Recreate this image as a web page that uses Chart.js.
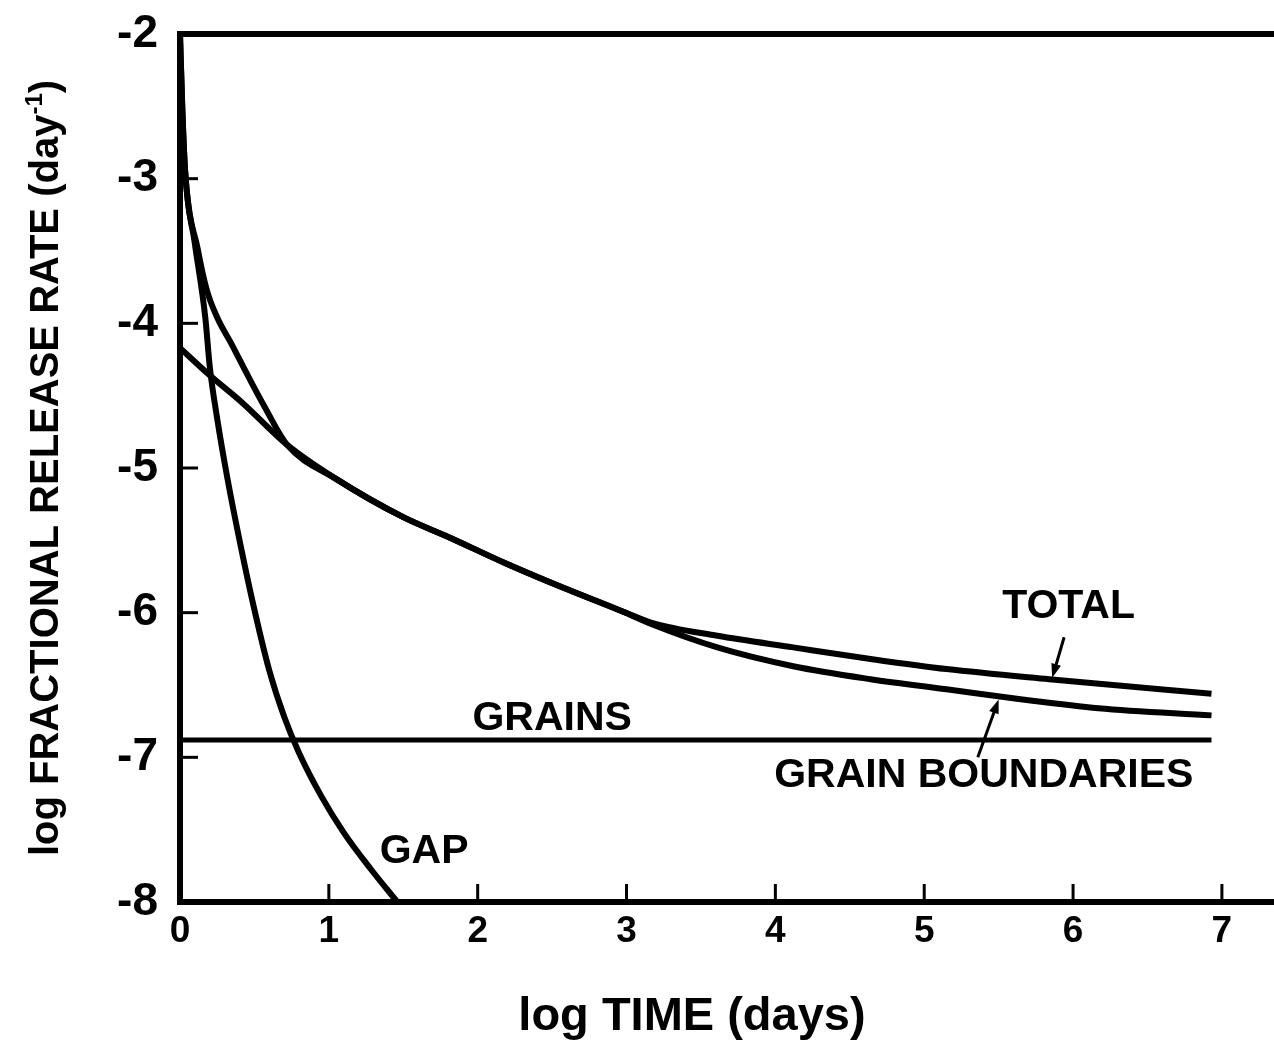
<!DOCTYPE html>
<html>
<head>
<meta charset="utf-8">
<title>Fractional release rate</title>
<script src="https://cdn.jsdelivr.net/npm/chart.js@4.4.0/dist/chart.umd.min.js"></script>
<style>
    html, body { margin: 0; padding: 0; background: #fff; }
    #wrap { position: relative; width: 1274px; height: 1045px; }
</style>
</head>
<body>
<div id="wrap"><canvas id="chart"></canvas></div>
<script>
// 1. Data (log10 values)
const xTicks = [0, 1, 2, 3, 4, 5, 6, 7];
const yTicks = [-8, -7, -6, -5, -4, -3, -2];

const gapX = [0, 0.015, 0.034, 0.10, 0.17, 0.20, 0.25, 0.32, 0.41, 0.50, 0.60, 0.70, 0.80, 0.95, 1.10, 1.28, 1.46];
const gapY = [-2.0, -2.5, -2.94, -3.45, -3.96, -4.30, -4.66, -5.08, -5.55, -5.98, -6.40, -6.72, -6.97, -7.27, -7.52, -7.77, -8.0];

const totalX = [0, 0.015, 0.034, 0.12, 0.18, 0.25, 0.35, 0.45, 0.57, 0.72, 1.04, 1.5, 1.81, 2.19, 2.58, 2.97, 3.17, 3.61, 4.12, 4.64, 5.15, 5.84, 6.93];
const totalY = [-2.0, -2.5, -2.94, -3.49, -3.77, -3.96, -4.15, -4.35, -4.58, -4.84, -5.07, -5.34, -5.48, -5.66, -5.83, -5.99, -6.07, -6.16, -6.24, -6.32, -6.39, -6.46, -6.56];

const boundX = [0, 0.19, 0.42, 0.72, 1.04, 1.5, 1.81, 2.19, 2.58, 2.97, 3.17, 3.61, 4.12, 4.64, 5.15, 5.66, 6.17, 6.93];
const boundY = [-4.17, -4.35, -4.55, -4.84, -5.07, -5.34, -5.48, -5.66, -5.83, -5.99, -6.08, -6.24, -6.37, -6.46, -6.53, -6.60, -6.66, -6.71];

const grainsX = [0, 6.93];
const grainsY = [-6.88, -6.88];

// 2. Style
const Theme = {
    ink: '#000',
    font: "'Liberation Sans', Arial, Helvetica, sans-serif"
};

const pts = (xs, ys) => xs.map((x, i) => ({ x: x, y: ys[i] }));

const curve = (data, width) => ({
    data: data,
    showLine: true,
    borderColor: Theme.ink,
    borderWidth: width,
    pointRadius: 0,
    cubicInterpolationMode: 'monotone',
    fill: false
});

// curve names placed in data units, arrows from -> to
const curveLabels = [
    { text: 'TOTAL', x: 5.97, y: -5.96 },
    { text: 'GRAINS', x: 2.50, y: -6.73 },
    { text: 'GRAIN BOUNDARIES', x: 5.40, y: -7.13 },
    { text: 'GAP', x: 1.64, y: -7.65 }
];
const arrows = [
    { from: [5.94, -6.17], to: [5.86, -6.45] },
    { from: [5.36, -7.00], to: [5.50, -6.60] }
];

// 3. Drawing extras: frame top, inward ticks, labels, titles
const extras = {
    id: 'extras',
    afterDatasetsDraw(chart) {
        const { ctx, chartArea: a, scales: { x, y } } = chart;
        ctx.save();
        ctx.strokeStyle = Theme.ink;
        ctx.fillStyle = Theme.ink;

        // top frame line
        ctx.lineWidth = 6;
        ctx.beginPath();
        ctx.moveTo(a.left - 3, y.getPixelForValue(-2));
        ctx.lineTo(a.right, y.getPixelForValue(-2));
        ctx.stroke();

        // inward ticks
        ctx.lineWidth = 3;
        xTicks.slice(1).forEach(v => {
            const px = x.getPixelForValue(v);
            ctx.beginPath();
            ctx.moveTo(px, a.bottom);
            ctx.lineTo(px, a.bottom - 18);
            ctx.stroke();
        });
        yTicks.slice(1, -1).forEach(v => {
            const py = y.getPixelForValue(v);
            ctx.beginPath();
            ctx.moveTo(a.left, py);
            ctx.lineTo(a.left + 18, py);
            ctx.stroke();
        });

        // curve names
        ctx.font = 'bold 41px ' + Theme.font;
        ctx.textAlign = 'center';
        ctx.textBaseline = 'middle';
        curveLabels.forEach(l => {
            ctx.fillText(l.text, x.getPixelForValue(l.x), y.getPixelForValue(l.y));
        });

        // pointer arrows
        ctx.lineWidth = 3;
        arrows.forEach(ar => {
            const x0 = x.getPixelForValue(ar.from[0]), y0 = y.getPixelForValue(ar.from[1]);
            const x1 = x.getPixelForValue(ar.to[0]), y1 = y.getPixelForValue(ar.to[1]);
            const ang = Math.atan2(y1 - y0, x1 - x0);
            ctx.beginPath();
            ctx.moveTo(x0, y0);
            ctx.lineTo(x1 - 8 * Math.cos(ang), y1 - 8 * Math.sin(ang));
            ctx.stroke();
            ctx.beginPath();
            ctx.moveTo(x1, y1);
            ctx.lineTo(x1 - 14 * Math.cos(ang) + 5 * Math.sin(ang), y1 - 14 * Math.sin(ang) - 5 * Math.cos(ang));
            ctx.lineTo(x1 - 14 * Math.cos(ang) - 5 * Math.sin(ang), y1 - 14 * Math.sin(ang) + 5 * Math.cos(ang));
            ctx.closePath();
            ctx.fill();
        });

        // x axis title
        ctx.font = 'bold 47px ' + Theme.font;
        ctx.textAlign = 'center';
        ctx.textBaseline = 'alphabetic';
        ctx.fillText('log TIME (days)', 692, 1030);

        // y axis title, with superscript
        ctx.translate(58, (a.top + a.bottom) / 2);
        ctx.rotate(-Math.PI / 2);
        const main = 'log FRACTIONAL RELEASE RATE (day';
        const sup = '-1';
        const close = ')';
        ctx.font = 'bold 40px ' + Theme.font;
        const wMain = ctx.measureText(main).width;
        const wClose = ctx.measureText(close).width;
        ctx.font = 'bold 24px ' + Theme.font;
        const wSup = ctx.measureText(sup).width;
        let cx = -(wMain + wSup + wClose) / 2;
        ctx.textAlign = 'left';
        ctx.font = 'bold 40px ' + Theme.font;
        ctx.fillText(main, cx, 0);
        cx += wMain;
        ctx.font = 'bold 24px ' + Theme.font;
        ctx.fillText(sup, cx, -16);
        cx += wSup;
        ctx.font = 'bold 40px ' + Theme.font;
        ctx.fillText(close, cx, 0);
        ctx.restore();
    }
};

// 4. Chart
new Chart(document.getElementById('chart'), {
    type: 'scatter',
    data: {
        datasets: [
            curve(pts(gapX, gapY), 6),
            curve(pts(totalX, totalY), 6),
            curve(pts(boundX, boundY), 6),
            curve(pts(grainsX, grainsY), 5)
        ]
    },
    options: {
        responsive: true,
        maintainAspectRatio: false,
        animation: false,
        layout: { padding: { top: 34, right: 0, bottom: 0, left: 0 } },
        plugins: { legend: { display: false }, tooltip: { enabled: false } },
        scales: {
            x: {
                type: 'linear',
                min: 0,
                max: 7.35,
                afterBuildTicks: s => { s.ticks = xTicks.map(v => ({ value: v })); },
                afterFit: s => { s.height = 143; s.paddingLeft = 0; s.paddingRight = 0; },
                grid: { display: false, drawTicks: false },
                border: { display: true, color: Theme.ink, width: 6 },
                ticks: {
                    color: Theme.ink,
                    padding: 8,
                    maxRotation: 0,
                    font: { family: Theme.font, size: 37, weight: 'bold' }
                }
            },
            y: {
                type: 'linear',
                min: -8,
                max: -2,
                afterBuildTicks: s => { s.ticks = yTicks.map(v => ({ value: v })); },
                afterFit: s => { s.width = 180; s.paddingTop = 0; s.paddingBottom = 0; },
                grid: { display: false, drawTicks: false },
                border: { display: true, color: Theme.ink, width: 6 },
                ticks: {
                    color: Theme.ink,
                    padding: 22,
                    font: { family: Theme.font, size: 46, weight: 'bold' }
                }
            }
        }
    },
    plugins: [extras]
});
</script>
</body>
</html>
